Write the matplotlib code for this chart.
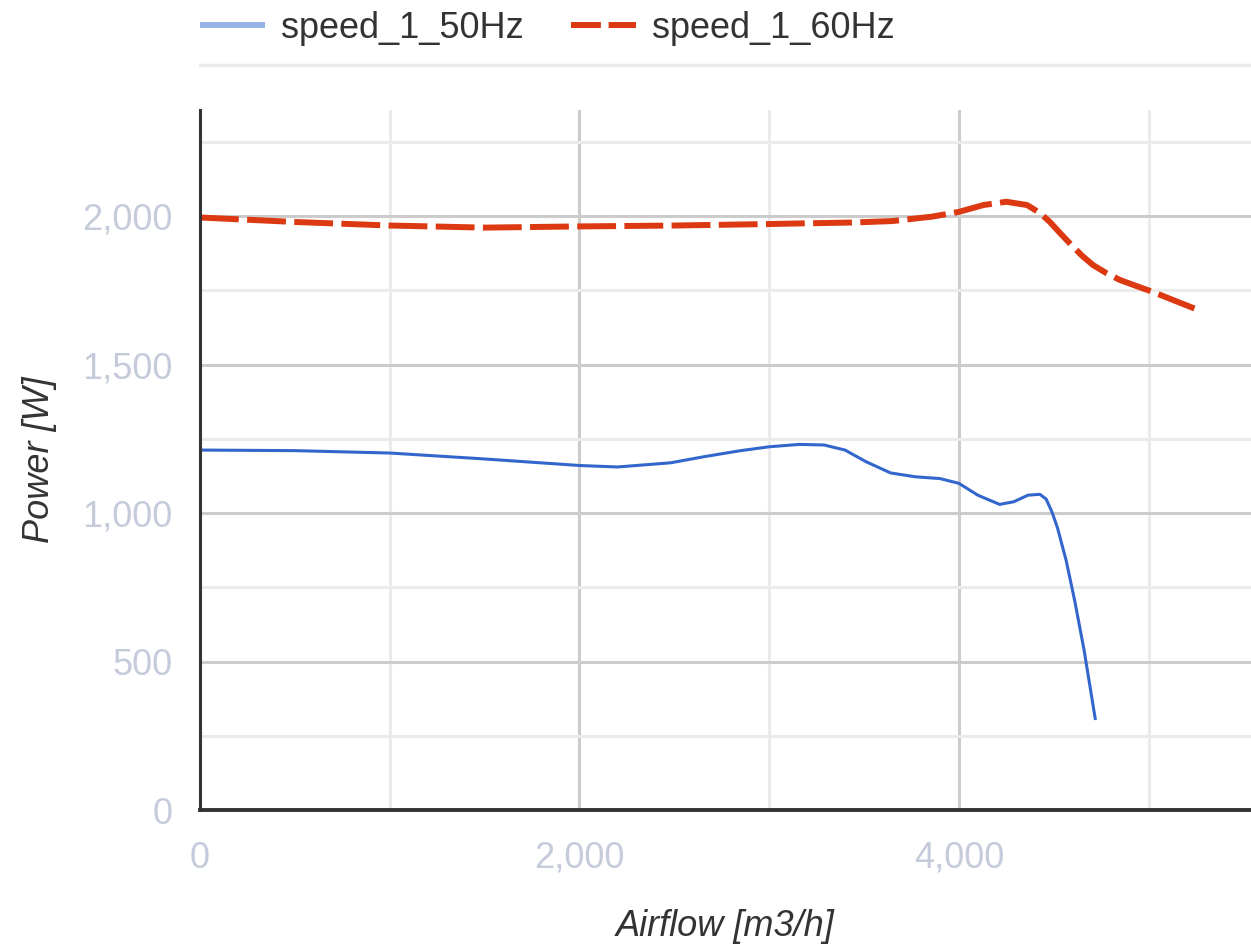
"""Airflow vs power curve, Google-chart look."""
import matplotlib
matplotlib.use("Agg")
import matplotlib.pyplot as plt
from matplotlib.lines import Line2D
from matplotlib.ticker import FuncFormatter

plt.rcParams["font.family"] = ["Liberation Sans", "DejaVu Sans"]

# speed_1_50Hz
airflow_50 = [0, 500, 1000, 1500, 2000, 2200, 2480, 2660, 2850, 3000, 3160, 3290,
              3400, 3510, 3640, 3770, 3900, 4000, 4100, 4215, 4290, 4364, 4427,
              4460, 4490, 4520, 4565, 4610, 4660, 4720]
power_50 = [1212, 1210, 1202, 1182, 1160, 1155, 1169, 1190, 1210, 1223, 1231, 1229,
            1212, 1173, 1135, 1122, 1116, 1100, 1060, 1029, 1038, 1060, 1063,
            1047, 1005, 950, 842, 707, 539, 303]

# speed_1_60Hz
airflow_60 = [0, 500, 1000, 1500, 2000, 2500, 3000, 3160, 3430, 3650, 3860, 4000,
              4130, 4250, 4360, 4430, 4480, 4530, 4594, 4650, 4707, 4780, 4848,
              4920, 5020, 5130, 5260]
power_60 = [1995, 1980, 1968, 1961, 1965, 1968, 1973, 1975, 1978, 1983, 1998, 2014,
            2037, 2048, 2037, 2009, 1980, 1945, 1902, 1866, 1835, 1807, 1785,
            1768, 1745, 1717, 1684]

labels = ["speed_1_50Hz", "speed_1_60Hz"]
x_major = [0, 2000, 4000]
x_minor = [1000, 3000, 5000]
y_major = [0, 500, 1000, 1500, 2000]
y_minor = [250, 750, 1250, 1750, 2250]

BLUE = "#3366cc"
RED = "#dc3912"
TICK_COLOR = "#c5cbda"
TEXT_COLOR = "#333333"

W, H = 1251, 952
fig = plt.figure(figsize=(W / 100, H / 100), dpi=100)
ax = fig.add_axes([200 / W, 1 - 810 / H, 1 - 200 / W, (810 - 110) / H])

ax.plot(airflow_50, power_50, color=BLUE, lw=2.2, solid_capstyle="butt",
        solid_joinstyle="round", zorder=3)
ax.plot(airflow_60, power_60, color=RED, lw=4.3, dashes=(6.5, 1.4),
        dash_capstyle="butt", dash_joinstyle="round", zorder=3)

ax.set_xlim(0, 5540)
ax.set_ylim(0, 2357)

# gridlines
for v in x_minor:
    ax.axvline(v, color="#ebebeb", lw=2.2, zorder=1)
for v in x_major[1:]:
    ax.axvline(v, color="#cccccc", lw=2.2, zorder=1)
for v in y_minor:
    ax.axhline(v, color="#ebebeb", lw=2.2, zorder=1)
for v in y_major[1:]:
    ax.axhline(v, color="#cccccc", lw=2.2, zorder=1)

fmt = FuncFormatter(lambda v, p: f"{int(v):,}")
ax.set_xticks(x_major)
ax.set_yticks(y_major)
ax.xaxis.set_major_formatter(fmt)
ax.yaxis.set_major_formatter(fmt)
ax.tick_params(length=0, labelsize=26, colors=TICK_COLOR)
ax.tick_params(axis="x", pad=22)
ax.tick_params(axis="y", pad=20)

for side in ["top", "right"]:
    ax.spines[side].set_visible(False)
ax.spines["left"].set_color("#333333")
ax.spines["left"].set_linewidth(2.2)
ax.spines["bottom"].set_color("#333333")
ax.spines["bottom"].set_linewidth(2.8)
ax.spines["left"].set_zorder(4)
ax.spines["bottom"].set_zorder(4)

ax.set_xlabel("Airflow [m3/h]", fontsize=26, style="italic", color=TEXT_COLOR,
              labelpad=24)
ax.set_ylabel("Power [W]", fontsize=26, style="italic", color=TEXT_COLOR,
              labelpad=18)

# legend on top
handles = [
    Line2D([], [], color="#97b3e6", lw=4.3, solid_capstyle="butt"),
    Line2D([], [], color=RED, lw=4.3, dashes=(5, 1.3), dash_capstyle="butt"),
]
fig.legend(handles, labels, loc="center left",
           bbox_to_anchor=(200 / W, 1 - 28 / H), ncol=2, frameon=False,
           fontsize=26, labelcolor=TEXT_COLOR, handlelength=1.8,
           handletextpad=0.45, columnspacing=1.3, borderpad=0,
           borderaxespad=0)
fig.add_artist(Line2D([200 / W, 1], [1 - 65 / H, 1 - 65 / H],
                      color="#ebebeb", lw=2.5, transform=fig.transFigure))

fig.savefig("out.png", dpi=100)
